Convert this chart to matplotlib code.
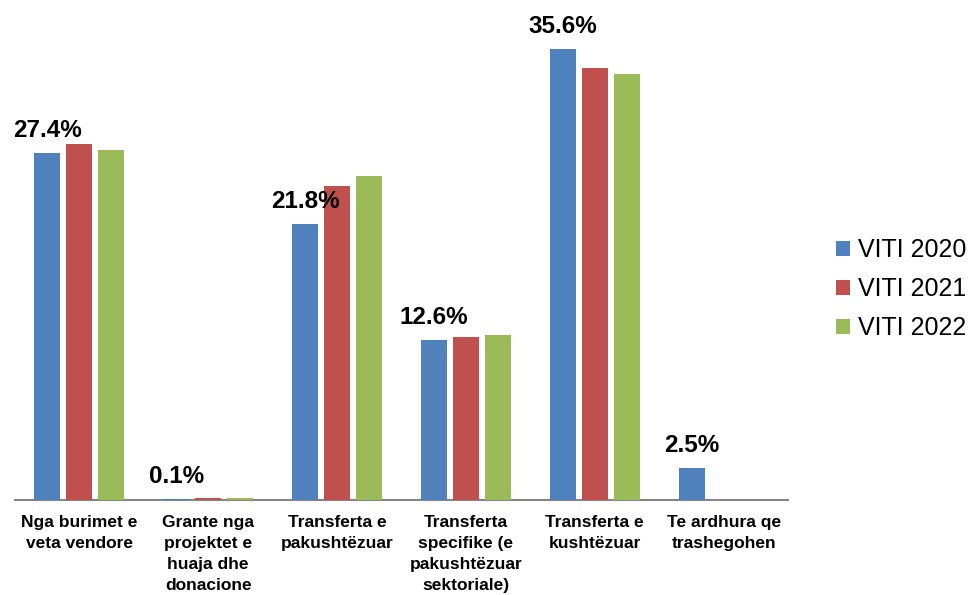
import matplotlib
matplotlib.use("Agg")
import matplotlib.pyplot as plt
from matplotlib.patches import Patch
import numpy as np

plt.rcParams['font.family'] = ['Liberation Sans', 'DejaVu Sans']

categories = [
    "Nga burimet e\nveta vendore",
    "Grante nga\nprojektet e\nhuaja dhe\ndonacione",
    "Transferta e\npakushtëzuar",
    "Transferta\nspecifike (e\npakushtëzuar\nsektoriale)",
    "Transferta e\nkushtëzuar",
    "Te ardhura qe\ntrashegohen",
]
series_names = ["VITI 2020", "VITI 2021", "VITI 2022"]
viti_2020 = [27.4, 0.1, 21.8, 12.6, 35.6, 2.5]
viti_2021 = [28.1, 0.15, 24.8, 12.9, 34.1, 0.0]
viti_2022 = [27.6, 0.15, 25.6, 13.0, 33.6, 0.0]
colors = ["#4F81BD", "#C0504D", "#9BBB59"]

W, H, DPI = 974, 595, 100
fig = plt.figure(figsize=(W / DPI, H / DPI), dpi=DPI)
ax = fig.add_axes([15 / W, 1 - 500 / H, (788 - 15) / W, (500 - 18.5) / H])

x = np.arange(len(categories))
bar_w = 0.202
step = 0.248
all_series = [viti_2020, viti_2021, viti_2022]
for i, (vals, c) in enumerate(zip(all_series, colors)):
    ax.bar(x + (i - 1) * step, vals, width=bar_w, color=c, linewidth=0, zorder=3)

# value labels on the first series
for xi, v in zip(x, viti_2020):
    ax.annotate(f"{v:.1f}%", (xi - step, v), xytext=(0, 16 * 72 / DPI),
                textcoords="offset points", ha="center", va="baseline",
                fontsize=17.5, fontweight="bold", color="black")

ax.set_xlim(-0.5, len(categories) - 0.5)
ax.set_ylim(0, 38)
for s in ["top", "right", "left"]:
    ax.spines[s].set_visible(False)
ax.spines["bottom"].set_color("#868686")
ax.spines["bottom"].set_linewidth(1.5)
ax.set_yticks([])
ax.set_xticks(x)
ax.set_xticklabels(categories, fontsize=12.5, fontweight="bold", linespacing=1.5)
ax.tick_params(axis="x", length=0, pad=10.5)

handles = [Patch(facecolor=c, edgecolor="none") for c in colors]
fig.legend(handles, series_names, loc="center left",
           bbox_to_anchor=(836 / W, 1 - 289 / H), bbox_transform=fig.transFigure,
           frameon=False, fontsize=18, borderpad=0, borderaxespad=0,
           handlelength=0.56, handleheight=0.56, handletextpad=0.3,
           labelspacing=0.6)

fig.savefig("out.png", dpi=DPI)
